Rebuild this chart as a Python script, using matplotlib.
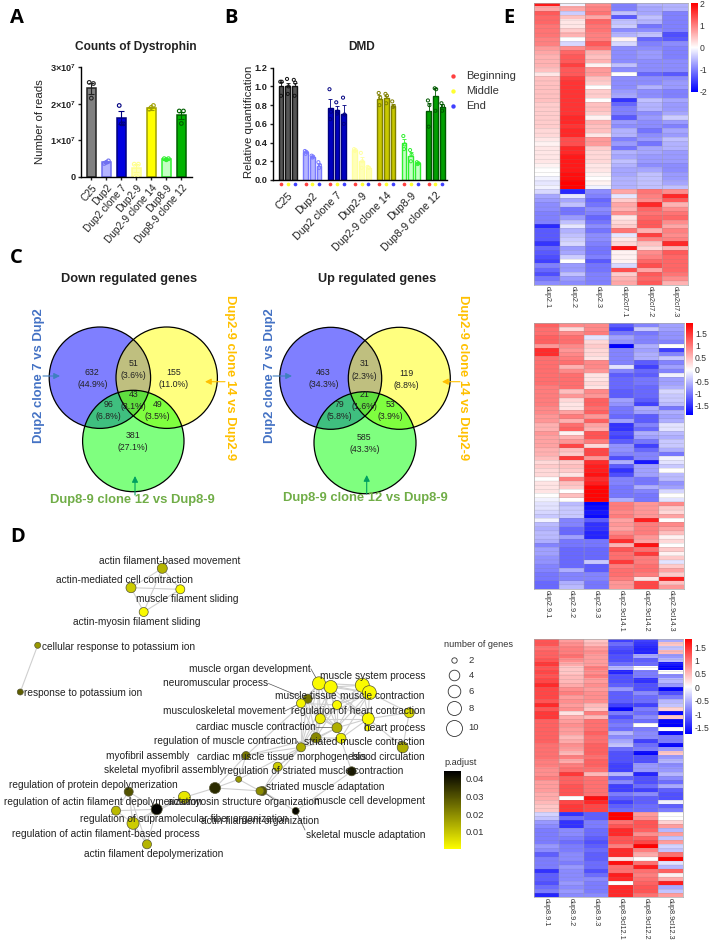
import matplotlib
matplotlib.use("Agg")
import matplotlib.pyplot as plt
import numpy as np
from matplotlib.colors import LinearSegmentedColormap
from matplotlib.patches import Circle

plt.rcParams["font.family"] = ["Liberation Sans", "DejaVu Sans"]
plt.rcParams["mathtext.default"] = "regular"

W, H = 711, 944

# Panel A
groups = ["C25", "Dup2", "Dup2 clone 7", "Dup2-9", "Dup2-9 clone 14", "Dup8-9", "Dup8-9 clone 12"]
reads_mean = [2.42e7, 0.40e7, 1.62e7, 0.25e7, 1.88e7, 0.48e7, 1.68e7]
reads_err = [0.15e7, 0.03e7, 0.17e7, 0.10e7, 0.04e7, 0.02e7, 0.10e7]
reads_points = [
    [2.58e7, 2.55e7, 2.15e7],
    [0.37e7, 0.44e7, 0.40e7],
    [1.95e7, 1.45e7, 1.45e7],
    [0.35e7, 0.35e7, 0.03e7],
    [1.85e7, 1.95e7, 1.90e7],
    [0.50e7, 0.50e7, 0.47e7],
    [1.80e7, 1.80e7, 1.46e7],
]
fill_a = ["#808080", "#b4b4ff", "#0000e0", "#ffffb8", "#ffff00", "#c4ffc4", "#00b400"]
edge_a = ["#222222", "#7070f0", "#000080", "#ffff90", "#a0a000", "#30f030", "#006000"]

# Panel B
quant_mean = [
    [1.00, 1.00, 1.00],
    [0.30, 0.25, 0.15],
    [0.77, 0.75, 0.71],
    [0.32, 0.20, 0.13],
    [0.87, 0.88, 0.79],
    [0.40, 0.26, 0.18],
    [0.74, 0.90, 0.78],
]
quant_err = [
    [0.05, 0.04, 0.04],
    [0.01, 0.01, 0.02],
    [0.10, 0.04, 0.09],
    [0.00, 0.05, 0.00],
    [0.04, 0.02, 0.02],
    [0.04, 0.04, 0.01],
    [0.08, 0.08, 0.03],
]
quant_points = [
    [[1.05, 1.05, 0.90], [1.08, 1.00, 0.92], [1.07, 1.04, 0.90]],
    [[0.31, 0.30, 0.28], [0.26, 0.25, 0.24], [0.19, 0.16, 0.13]],
    [[0.97, 0.73, 0.65], [0.83, 0.73, 0.71], [0.88, 0.70, 0.60]],
    [[0.33, 0.32, 0.31], [0.29, 0.20, 0.13], [0.14, 0.13, 0.13]],
    [[0.93, 0.88, 0.80], [0.92, 0.90, 0.82], [0.84, 0.79, 0.78]],
    [[0.47, 0.38, 0.33], [0.32, 0.27, 0.20], [0.19, 0.18, 0.17]],
    [[0.85, 0.80, 0.57], [0.98, 0.97, 0.74], [0.82, 0.79, 0.74]],
]
fill_b = ["#555555", "#b4b4ff", "#0000c0", "#ffffb8", "#c8c800", "#c4ffc4", "#00a000"]
edge_b = ["#111111", "#7878ff", "#000080", "#ffffa0", "#808000", "#30f030", "#005800"]
region_names = ["Beginning", "Middle", "End"]
region_colors = ["#ff4040", "#ffff30", "#4040ff"]

# Panel C
down_counts = ["632\n(44.9%)", "155\n(11.0%)", "381\n(27.1%)", "51\n(3.6%)", "96\n(6.8%)", "49\n(3.5%)", "43\n(3.1%)"]
up_counts = ["463\n(34.3%)", "119\n(8.8%)", "585\n(43.3%)", "31\n(2.3%)", "79\n(5.8%)", "53\n(3.9%)", "21\n(1.6%)"]

# Panel D
node_x = [162.3, 131, 180.3, 143.7, 37.7, 20.3, 128.7, 116, 156.7, 184.3, 133, 147, 215, 238.7, 246,
          319, 330.7, 362.3, 369.3, 307.7, 301, 337, 320.3, 368.3, 409.3, 337, 316, 341, 301, 402.7,
          367.7, 277.7, 351.7, 262.3, 295.7, 260]
node_y = [568.3, 587.7, 589.3, 612, 645.3, 692, 791.7, 810.7, 809.3, 797.3, 823.3, 844.3, 788, 779.3, 755.5,
          683.3, 687, 685.3, 692.7, 698.7, 703.3, 705, 718.7, 718.7, 712.7, 727.7, 737.7, 738.3, 747.3, 747.3,
          728, 766.7, 771.3, 791, 811, 791]
node_r = [5, 5, 4.5, 4.5, 3, 3, 4.5, 4.5, 5.5, 6, 6, 4.5, 5.5, 3, 4, 6.5, 6.5, 7, 7, 4.5, 4.5, 4.5, 5, 6, 5,
          5, 5, 5, 4.5, 5.5, 3, 4.5, 4.5, 4.5, 3.5, 4]
node_p = [0.013, 0.009, 0.001, 0.001, 0.018, 0.028, 0.03, 0.012, 0.044, 0.004, 0.009, 0.013, 0.037, 0.018, 0.024,
          0.001, 0.001, 0.001, 0.001, 0.024, 0.002, 0.001, 0.003, 0.001, 0.006,
          0.014, 0.021, 0.003, 0.014, 0.014, 0.001, 0.009, 0.04, 0.03, 0.043, 0.02]
edges = [(0, 1), (0, 2), (0, 3), (1, 2), (1, 3), (2, 3), (4, 5),
         (6, 7), (6, 8), (6, 10), (6, 11), (7, 8), (7, 10), (8, 9), (8, 10), (8, 11), (10, 11), (9, 10), (9, 12),
         (12, 13), (12, 14), (12, 33), (13, 14), (13, 35), (14, 28), (14, 19), (14, 26), (31, 28), (31, 33), (33, 34),
         (15, 16), (15, 17), (15, 18), (15, 19), (15, 20), (15, 21), (15, 22), (16, 17), (16, 18), (16, 21), (16, 22),
         (17, 18), (17, 21), (18, 21), (18, 23), (18, 24), (19, 20), (19, 22), (19, 26), (20, 21), (20, 22), (20, 25),
         (20, 28), (21, 22), (21, 23), (22, 25), (22, 26), (22, 23), (23, 24), (23, 25), (23, 30), (24, 29), (25, 26),
         (25, 27), (25, 28), (26, 27), (26, 28), (27, 28), (28, 31), (25, 32), (32, 34), (28, 33), (23, 29), (13, 28),
         (15, 23), (16, 23), (17, 23), (15, 25), (16, 25), (17, 25), (18, 25), (19, 25), (19, 28), (20, 26), (16, 26),
         (15, 28), (16, 28), (21, 25), (21, 26), (18, 27), (23, 27), (22, 28), (17, 22), (18, 22), (15, 26)]
net_labels = [
    ("actin filament-based movement", 169.3, 561, "center"),
    ("actin-mediated cell contraction", 124, 580, "center"),
    ("muscle filament sliding", 187, 599.5, "center"),
    ("actin-myosin filament sliding", 136.7, 622, "center"),
    ("cellular response to potassium ion", 42, 646.5, "left"),
    ("response to potassium ion", 24, 693, "left"),
    ("muscle organ development", 311, 669, "right"),
    ("neuromuscular process", 268.5, 683.5, "right"),
    ("muscle system process", 425, 676, "right"),
    ("muscle tissue", 275, 696, "left"),
    ("muscle contraction", 425, 696, "right"),
    ("musculoskeletal movement", 285, 711, "right"),
    ("regulation of heart contraction", 425, 711, "right"),
    ("cardiac muscle contraction", 316, 727, "right"),
    ("heart process", 425, 728, "right"),
    ("regulation of muscle contraction", 297, 741, "right"),
    ("striated muscle contraction", 425, 742, "right"),
    ("myofibril assembly", 106, 756, "left"),
    ("cardiac muscle tissue morphogenesis", 197, 757, "left"),
    ("blood circulation", 425, 757, "right"),
    ("skeletal myofibril assembly", 104.5, 770, "left"),
    ("regulation of striated muscle contraction", 403, 771.5, "right"),
    ("regulation of protein depolymerization", 9, 785, "left"),
    ("striated muscle adaptation", 385, 786.5, "right"),
    ("regulation of actin filament depolymerization", 4, 802, "left"),
    ("actomyosin structure organization", 320, 802, "right"),
    ("muscle cell development", 425, 801, "right"),
    ("regulation of supramolecular fiber organization", 80, 818.5, "left"),
    ("actin filament organization", 319.5, 821, "right"),
    ("regulation of actin filament-based process", 12.5, 834, "left"),
    ("skeletal muscle adaptation", 425, 835, "right"),
    ("actin filament depolymerization", 84.5, 854, "left"),
]
legend_genes = [2, 4, 6, 8, 10]
padjust_ticks = [0.01, 0.02, 0.03, 0.04]

# Panel E
heat1_labels = ["dup2.1", "dup2.2", "dup2.3", "dup2cl7.1", "dup2cl7.2", "dup2cl7.3"]
heat1 = [
    [1.8, -0.1, 0.9, -1.0, -0.6, -0.6], [0.7, 0.7, 1.0, -1.0, -0.7, -0.6], [1.3, -0.4, 1.1, -0.5, -0.7, -1.0],
    [1.2, 0.5, 0.7, -1.3, -0.5, -1.0], [1.2, 0.2, 1.2, -0.5, -0.6, -1.0], [1.1, 0.2, 1.1, -0.4, -1.1, -1.0],
    [1.1, 0.4, 1.1, -0.9, -0.9, -1.0], [1.1, 0.6, 1.0, -0.6, -0.5, -1.4], [1.0, 0.0, 1.0, 0.1, -1.2, -1.3],
    [1.0, -0.3, 1.3, -0.3, -1.0, -0.9], [0.8, 0.9, 1.1, -0.9, -0.9, -1.0], [0.7, 1.2, 0.6, -0.9, -0.8, -1.0],
    [0.6, 1.3, 0.5, -0.9, -0.8, -1.0], [0.6, 1.3, 0.6, -0.9, -0.9, -0.9], [0.6, 1.5, 0.1, -0.5, -0.9, -0.9],
    [0.5, 1.3, 0.8, -0.9, -0.9, -0.9], [0.2, 1.3, 0.8, 0.0, -1.2, -1.3], [0.5, 1.5, 0.5, -0.9, -0.9, -0.9],
    [0.5, 1.6, 0.4, -0.9, -0.9, -0.8], [0.5, 1.6, 0.0, -0.9, -0.6, -0.8], [0.5, 1.6, 0.4, -0.8, -0.9, -1.0],
    [0.5, 1.6, 0.4, -0.7, -0.9, -1.0], [0.5, 1.6, 0.0, -1.6, -0.5, -0.7], [0.4, 1.6, 0.5, -1.2, -0.6, -0.8],
    [0.4, 1.6, 0.5, -1.0, -0.6, -0.8], [0.4, 1.6, 0.4, -1.0, -0.9, -0.7], [0.4, 1.7, 0.1, -1.3, -0.8, -0.4],
    [0.4, 1.7, 0.6, -0.8, -0.9, -0.8], [0.4, 1.6, 0.5, -0.9, -0.9, -1.0], [0.3, 1.7, 0.5, -0.6, -1.1, -0.7],
    [0.3, 1.7, 0.2, -0.6, -0.9, -0.8], [0.2, 1.4, 0.8, -1.0, -0.8, -0.5], [0.1, 1.4, 0.8, -0.8, -1.1, -0.6],
    [0.2, 1.7, 0.4, -1.1, -0.7, -0.6], [0.2, 1.7, 0.3, -0.6, -0.7, -0.8], [0.2, 1.8, 0.3, -0.7, -0.8, -0.8],
    [0.2, 1.8, 0.3, -0.5, -0.8, -0.8], [0.1, 1.8, 0.2, -0.6, -0.9, -0.9], [0.0, 1.8, 0.2, -0.7, -0.7, -0.9],
    [0.0, 1.9, 0.1, -0.7, -0.5, -0.8], [-0.1, 1.9, 0.0, -0.6, -0.5, -0.8], [-0.2, 2.0, 0.1, -0.6, -0.5, -0.7],
    [-0.1, 2.0, -0.1, -0.6, -0.5, -0.5], [-0.3, -1.7, -0.9, 0.7, 1.1, 0.9], [-0.7, -0.2, -1.0, -0.2, 1.0, 1.7],
    [-0.8, -0.7, -1.2, 0.4, 0.9, 1.3], [-0.9, -0.5, -1.1, 0.7, 1.7, 0.6], [-0.9, -1.1, -0.9, 0.6, 1.2, 0.9],
    [-1.0, -1.1, -1.0, 0.9, 1.1, 1.1], [-1.0, -0.8, -1.2, 0.2, 1.2, 1.2], [-1.0, -0.5, -1.1, 0.3, 1.3, 0.9],
    [-1.7, -0.2, -0.9, 0.4, 1.3, 0.7], [-1.3, -0.6, -1.1, 1.1, 0.6, 1.0], [-1.3, -0.5, -0.9, -0.2, 1.5, 0.9],
    [-1.3, -0.4, -0.9, 0.2, 1.0, 1.0], [-1.6, -0.3, -1.0, 0.3, 0.5, 1.7], [-1.2, -0.8, -1.1, 1.9, 0.3, 0.6],
    [-1.3, -0.7, -1.1, 0.1, 0.9, 1.3], [-1.4, -0.4, -1.0, 0.1, 1.0, 1.2], [-1.5, 0.0, -1.3, 0.1, 1.2, 1.2],
    [-1.0, -0.8, -1.1, -0.3, 1.4, 1.2], [-1.2, -0.8, -1.1, 1.4, 0.7, 1.2], [-1.4, -0.5, -1.0, 0.4, 1.3, 1.1],
    [-1.1, -0.8, -1.0, 0.6, 1.2, 0.9], [-0.9, -0.9, -1.0, 0.7, 1.3, 0.6],
]
heat2_labels = ["dup2.9.1", "dup2.9.2", "dup2.9.3", "dup2.9cl14.1", "dup2.9cl14.2", "dup2.9cl14.3"]
heat2 = [
    [1.2, 0.9, 0.9, -1.2, -0.9, -0.7], [1.1, 0.3, 0.9, -1.4, -0.4, -0.7], [1.1, 0.9, 1.0, -1.0, -1.0, -0.8],
    [1.2, 1.1, -0.2, -0.7, -0.9, -0.8], [1.2, 1.1, 0.3, -0.8, -0.9, -0.9], [0.8, 0.9, 0.4, -1.9, -0.6, 0.0],
    [1.6, 0.8, 0.3, -0.9, -0.7, -1.4], [1.6, 0.9, 0.3, -0.9, -0.6, -0.9], [1.1, 1.0, 0.2, -0.9, -0.6, -0.4],
    [1.1, 1.1, 0.9, -0.9, -1.2, -0.9], [1.1, 0.6, 0.9, -0.2, -1.4, -0.7], [1.1, 0.9, 0.8, -0.9, -1.1, -0.9],
    [1.1, 1.1, 0.2, -1.2, -1.2, -0.1], [1.1, 1.1, 0.2, -1.1, -1.0, -0.7], [1.1, 1.1, 0.3, -1.1, -1.0, -0.7],
    [1.0, 1.1, 0.2, -1.1, -1.1, -0.6], [1.0, 0.5, 0.9, -1.2, -1.1, -0.3], [1.0, 0.8, 0.8, -1.2, -1.1, -0.4],
    [1.0, 0.3, 1.2, -0.7, -1.2, -0.4], [1.0, 0.2, 1.2, -0.8, -1.4, -0.5], [0.9, 0.2, 1.1, -1.0, -0.6, -1.0],
    [0.9, 0.7, 1.2, -1.0, -0.7, -0.6], [0.8, 1.0, 0.8, -1.1, -1.2, -0.7], [0.8, 0.6, 1.2, -0.7, -1.2, -0.6],
    [0.6, 1.1, 0.7, -1.5, -0.9, -0.2], [0.6, 1.2, 0.6, -1.5, -1.1, -0.2], [0.8, 0.1, 1.3, -1.3, -0.6, -0.5],
    [0.7, 0.6, 1.3, -1.4, -0.7, -0.6], [0.7, 0.8, 1.0, -1.2, -1.0, -0.4], [0.7, 1.4, 0.3, -0.8, -1.4, -0.4],
    [0.6, 0.5, 1.4, -0.8, -1.1, -0.6], [0.6, 0.4, 1.4, -0.9, -0.9, -1.0], [0.5, 1.5, 0.8, -1.3, -0.9, -0.1],
    [0.3, 0.4, 1.6, -0.6, -1.7, -0.2], [0.4, 0.5, 1.7, -1.2, -0.7, -0.4], [0.3, 0.4, 1.7, -1.5, -0.7, 0.0],
    [0.3, 0.2, 1.8, -1.3, -0.7, -0.5], [0.0, 1.0, 1.6, -0.9, -1.0, -0.5], [0.2, 0.5, 1.7, -0.9, -1.0, -0.8],
    [0.2, 0.4, 1.9, -1.0, -0.6, -0.7], [0.2, 0.0, 1.9, -1.0, -0.9, -0.3], [0.0, 0.5, 1.9, -1.0, -1.0, 0.0],
    [-0.1, 0.0, 1.9, -0.6, -1.0, -0.2], [-0.2, -0.5, -1.9, 1.0, 0.8, 0.9], [-0.2, -0.4, -1.8, 1.0, 0.8, 0.4],
    [-0.3, -0.4, -1.7, 0.9, 0.8, 0.3], [-0.4, -0.4, -1.8, 1.0, 0.8, 0.7], [-0.1, -0.9, -1.2, 0.7, 1.7, 0.0],
    [-0.5, -0.9, -1.5, 0.8, 1.0, 0.9], [-0.6, -1.1, -1.5, 0.7, 1.0, 0.7], [-0.5, -1.1, -1.6, 0.9, 1.0, 0.5],
    [-0.5, -0.7, -1.6, 1.1, 0.8, 0.1], [-0.6, -1.0, -1.0, 1.6, 0.7, 0.3], [-0.9, -1.0, -1.0, 0.6, 1.8, 0.0],
    [-0.7, -1.1, -1.1, 1.3, 1.1, 0.4], [-0.7, -1.1, -1.1, 1.1, 1.5, 0.1], [-0.8, -1.1, -1.1, 1.1, 1.0, 0.4],
    [-0.8, -1.1, -0.4, 1.5, 1.0, -0.2], [-0.9, -1.1, -1.2, 1.0, 1.1, 0.4], [-0.9, -0.6, -1.2, 1.1, 1.1, 0.7],
    [-1.0, -0.9, -0.9, 1.1, 1.0, 0.4], [-1.0, -0.9, -0.9, 1.0, 0.2, 1.7], [-1.1, -0.6, -1.0, 0.8, 1.4, 0.5],
    [-1.1, -0.5, -1.0, 0.8, 1.4, 0.8],
]
heat3_labels = ["dup8.9.1", "dup8.9.2", "dup8.9.3", "dup8.9cl12.1", "dup8.9cl12.2", "dup8.9cl12.3"]
heat3 = [
    [1.2, 0.7, 0.4, -1.3, -1.3, -0.6], [1.2, 0.8, 0.5, -1.0, -1.4, 0.4], [1.0, 0.9, 0.7, -1.2, -1.5, -0.4],
    [1.1, 0.9, 0.8, -1.3, -1.5, 0.5], [1.1, 1.0, 0.7, -1.2, -0.6, -0.7], [1.2, 0.8, 0.7, -1.2, -1.1, -0.5],
    [1.4, 0.6, 0.7, -1.0, -1.0, -1.6], [1.2, 0.4, 0.9, -0.5, 0.0, -1.8], [1.3, 0.4, 0.8, -1.5, -0.9, 0.0],
    [1.2, 0.5, 0.9, -1.2, -0.9, -0.8], [1.3, 0.5, 0.7, -1.2, -1.4, -0.5], [1.5, 0.6, 0.8, -1.1, -1.2, -0.7],
    [1.3, 0.8, 0.7, -0.7, -1.2, -1.7], [1.3, 0.9, 0.8, -1.1, -0.8, -1.2], [1.3, 0.7, 0.8, -1.1, -1.0, -0.9],
    [1.2, 0.8, 0.8, -1.1, -1.0, -0.5], [1.5, 0.7, 0.5, -1.3, -1.3, -0.4], [1.2, 0.8, 0.4, -1.7, -0.9, 0.3],
    [1.4, 0.2, 0.9, -0.9, -1.0, -1.7], [1.4, 0.6, 0.5, -1.2, -0.8, 0.4], [1.1, 0.7, 1.0, -1.0, -1.0, -1.7],
    [1.1, 0.8, 1.0, -0.9, 0.0, -1.8], [1.1, 0.7, 1.0, -1.0, -0.9, 0.0], [1.1, 0.7, 1.1, -0.5, -0.8, -1.7],
    [1.1, 0.5, 1.0, -0.8, -0.8, -0.9], [1.1, 0.6, 1.0, -0.6, -1.3, -0.9], [1.0, 0.8, 1.1, -0.4, -1.0, -1.7],
    [1.0, 0.7, 1.1, -1.0, -0.9, -0.7], [1.0, 0.5, 1.1, -1.2, -1.7, 0.4], [1.0, 0.9, 1.0, -1.2, -1.2, -0.7],
    [0.9, 0.6, 1.1, -1.2, -1.2, -0.5], [0.9, 0.9, 1.1, -1.3, -0.7, -0.8], [0.8, 1.0, 1.0, -1.3, -0.7, -0.7],
    [0.8, 1.4, 0.5, -0.5, -1.5, -0.5], [0.9, 1.1, 1.0, -1.1, -1.2, -0.8], [0.7, 1.1, 1.0, -0.8, -1.2, -1.0],
    [0.7, 1.2, 1.0, -1.3, -1.0, -0.6], [0.7, 1.2, 1.0, -1.3, -1.3, -1.1], [0.6, 1.2, 1.0, -0.9, -0.8, -1.2],
    [0.6, 0.0, 1.7, -1.1, -1.1, -1.2], [0.5, 1.3, 1.5, -1.3, -1.1, -0.1], [0.4, 1.4, 1.3, -1.1, -1.0, -1.1],
    [0.4, 1.4, 1.3, -1.0, -1.0, -0.9], [-0.3, -1.4, -1.1, 1.8, 0.7, 0.0], [-0.4, -1.0, -1.1, 1.8, 0.8, 0.0],
    [-0.7, -1.4, -0.9, 1.0, 1.2, 0.3], [-0.8, -1.4, -0.9, 1.2, 1.2, 0.7], [-0.9, -0.8, -1.0, 1.5, 1.1, -0.5],
    [-0.9, -0.8, -1.0, 1.5, 0.8, 0.7], [-0.9, -0.9, -1.1, 1.2, 1.1, -0.4], [-0.9, -1.0, -1.2, 1.2, 1.3, 0.7],
    [-0.7, -0.9, -1.1, 0.9, 1.8, -0.3], [-0.8, -0.9, -1.0, 1.5, 0.9, -0.4], [-1.1, -0.8, -1.1, 1.5, 0.6, 1.0],
    [-0.9, -0.8, -1.1, 0.2, 0.0, 1.8], [-0.9, -0.9, -1.0, 1.7, 1.0, -0.2], [-0.9, -0.7, -1.0, 1.0, 1.6, -0.5],
    [-1.4, -0.8, -1.2, 1.0, 1.0, 1.1], [-1.1, -0.8, -1.0, 1.6, 0.9, 0.1], [-1.1, -0.8, -0.8, 1.5, 1.0, 0.6],
    [-1.2, -0.7, -0.9, 0.0, 1.1, 1.6], [-1.0, -0.8, -0.9, 1.5, 1.2, -0.6], [-0.9, -0.7, -0.9, 1.5, 1.2, -0.4],
    [-1.5, -0.8, -0.8, 1.5, 1.0, 0.7],
]


def ax_px(x0, y0, x1, y1):
    # axes placed by its pixel box, y measured from the top
    return fig.add_axes([x0 / W, 1 - y1 / H, (x1 - x0) / W, (y1 - y0) / H])


def prism(ax):
    ax.spines["top"].set_visible(False)
    ax.spines["right"].set_visible(False)
    ax.spines["left"].set_linewidth(1.0)
    ax.spines["bottom"].set_linewidth(1.0)
    ax.tick_params(width=1.0, length=2.5, pad=1.5, labelsize=7.2, color="#222222", labelcolor="#222222")
    ax.tick_params(axis="y", labelsize=6.6)
    ax.set_facecolor("none")
    for t in ax.get_yticklabels():
        t.set_fontweight("bold")


fig = plt.figure(figsize=(W / 100, H / 100), dpi=100)

# page layer in pixel coordinates for text, venns and the network
page = fig.add_axes([0, 0, 1, 1], zorder=5)
page.set_xlim(0, W)
page.set_ylim(H, 0)
page.axis("off")


def txt(x, y, s, **kw):
    kw.setdefault("ha", "center")
    kw.setdefault("va", "center")
    return page.text(x, y, s, **kw)


for letter, lx, ly in [("A", 17, 18), ("B", 230.5, 18), ("E", 509, 18), ("C", 16.5, 258), ("D", 17.5, 537)]:
    txt(lx, ly, letter, fontsize=14.5, fontweight="bold", family=["Open Sans", "DejaVu Sans"], color="black")

# A
ax = ax_px(81, 67, 192, 177)
pos = np.arange(len(groups))
ax.bar(pos, reads_mean, width=0.62, color=fill_a, edgecolor=edge_a, linewidth=1.1)
for i in pos:
    ax.errorbar(i, reads_mean[i], yerr=reads_err[i], color=edge_a[i], capsize=2.2, lw=0.8, capthick=0.8)
    ax.scatter([i - 0.14, i + 0.14, i][:3], reads_points[i], s=7, facecolor="none", edgecolor=edge_a[i], lw=0.8, zorder=4)
ax.set_xlim(-0.687, 6.71)
ax.set_ylim(0, 3e7)
ax.set_yticks([0, 1e7, 2e7, 3e7])
ax.set_yticklabels(["0", "1×10$^{7}$", "2×10$^{7}$", "3×10$^{7}$"])
ax.set_xticks(pos)
ax.set_xticklabels(groups, rotation=49, ha="right", rotation_mode="anchor")
prism(ax)
txt(136, 47, "Counts of Dystrophin", fontsize=8.6, fontweight="bold", color="#222222")
txt(40, 122, "Number of reads", rotation=90, fontsize=8.2, color="#222222")

# B
ax = ax_px(273, 67.7, 447, 180)
for i in pos:
    for j in range(3):
        x = i + (j - 1) * 0.275
        ax.bar(x, quant_mean[i][j], width=0.19, color=fill_b[i], edgecolor=edge_b[i], linewidth=1.0)
        ax.errorbar(x, quant_mean[i][j], yerr=[[0], [quant_err[i][j]]], color=edge_b[i], capsize=1.2, lw=0.6, capthick=0.6)
        ax.scatter([x - 0.03, x + 0.03, x], quant_points[i][j], s=5, facecolor="none", edgecolor=edge_b[i], lw=0.7, zorder=4)
        ax.scatter(x, -0.04, s=7, color=region_colors[j], clip_on=False, zorder=4, lw=0)
ax.set_xlim(-0.6, 6.47)
ax.set_ylim(0, 1.2)
ax.set_yticks(np.arange(0, 1.21, 0.2))
ax.set_yticklabels([f"{v:.1f}" for v in np.arange(0, 1.21, 0.2)])
ax.set_xticks(pos)
ax.set_xticklabels(groups, rotation=45, ha="right", rotation_mode="anchor")
prism(ax)
ax.tick_params(axis="x", length=0, pad=7.5, labelsize=7.7)
txt(362, 47, "DMD", fontsize=8.6, fontweight="bold", color="#222222")
txt(248.5, 122, "Relative quantification", rotation=90, fontsize=8.2, color="#222222")
for name, colour, ly in zip(region_names, region_colors, [76, 91, 106]):
    page.scatter(453, ly, s=10, color=colour, lw=0)
    txt(466.5, ly, name, ha="left", fontsize=8, color="#333333")


# C
def venn(cx, cy, dx, dy, r, counts, offs):
    for (ox, oy), colour in zip([(-dx, 0), (dx, 0), (0, dy)], ["#0000ff", "#ffff00", "#00ff00"]):
        page.add_patch(Circle((cx + ox, cy + oy), r, facecolor=colour, alpha=0.5, edgecolor="none"))
    for ox, oy in [(-dx, 0), (dx, 0), (0, dy)]:
        page.add_patch(Circle((cx + ox, cy + oy), r, facecolor="none", edgecolor="black", lw=0.9))
    for s, (ox, oy) in zip(counts, offs):
        txt(cx + ox, cy + oy, s, fontsize=6.3, color="#222222", linespacing=1.45)


down_offs = [(-41, 1), (40.4, 1), (-0.6, 63.6), (0, -8.4), (-25, 32.5), (24.4, 32.5), (0, 23)]
up_offs = [(-41.7, 0.4), (41, 1), (-0.7, 65), (-0.7, -8.3), (-26, 32.4), (25.3, 32.4), (-0.7, 22.4)]
venn(133.3, 377.7, 33.4, 63.3, 50.7, down_counts, down_offs)
venn(365, 378.3, 34.3, 64.4, 51, up_counts, up_offs)

txt(129, 279.3, "Down regulated genes", fontsize=9.2, fontweight="bold", color="#222222")
txt(376.7, 279.3, "Up regulated genes", fontsize=9.2, fontweight="bold", color="#222222")
for x1, x2, x3, y3 in [(39.3, 230, 132.7, 499.5), (270, 462.7, 365, 498.5)]:
    txt(x1, 375.8, "Dup2 clone 7 vs Dup2", rotation=90, fontsize=9.4, fontweight="bold", color="#4472c4")
    txt(x2, 377.5, "Dup2-9 clone 14 vs Dup2-9", rotation=270, fontsize=9.4, fontweight="bold", color="#ffc000")
    txt(x3, y3, "Dup8-9 clone 12 vs Dup8-9", fontsize=9.4, fontweight="bold", color="#70ad47")
for tail, head, colour in [
    ((43, 376), (60, 376), "#3f7fc0"), ((225, 381.7), (205, 381.7), "#ffc000"), ((135, 495), (135, 476), "#00a060"),
    ((273, 376), (292, 376), "#3f7fc0"), ((460, 381.7), (442, 381.7), "#ffc000"), ((366.7, 494), (366.7, 475), "#00a060"),
]:
    page.annotate("", xy=head, xytext=tail, arrowprops=dict(arrowstyle="-|>", color=colour, lw=0.8, mutation_scale=9, shrinkA=0, shrinkB=0))

# D
padj_cmap = LinearSegmentedColormap.from_list("padj", ["#ffff00", "#000000"])
for a, b in edges:
    page.plot([node_x[a], node_x[b]], [node_y[a], node_y[b]], color="#cfcfcf", lw=0.8, zorder=1)
page.scatter(node_x, node_y, s=[(2 * r * 0.72) ** 2 for r in node_r], c=node_p, cmap=padj_cmap, vmin=0, vmax=0.0445,
             edgecolor="#555533", linewidth=0.5, zorder=2)
for s, lx, ly, ha in net_labels:
    txt(lx, ly, s, ha=ha, fontsize=7.3, color="#222222", zorder=3)
for a, b in [((311, 669), (319, 683)), ((268.5, 683.5), (301, 697)), ((285, 711), (301, 703)), ((316, 727), (337, 727)),
             ((297, 741), (301, 747)), ((262, 791), (275, 800)), ((295.7, 811), (305, 830))]:
    page.plot([a[0], b[0]], [a[1], b[1]], color="#555555", lw=0.5, zorder=1)

txt(444, 644.3, "number of genes", ha="left", fontsize=6.6, color="#333333")
for g, ly, r in zip(legend_genes, [660.3, 675.3, 691.3, 708.3, 727.7], [2.7, 5.3, 6.3, 7, 8]):
    page.scatter(453.7, ly, s=(2 * r * 0.72) ** 2, facecolor="white", edgecolor="#333333", lw=0.6)
    txt(468.5, ly, str(g), ha="left", fontsize=6.8, color="#333333")
txt(444, 762.7, "p.adjust", ha="left", fontsize=6.6, color="#333333")
cax = ax_px(444, 770.7, 460, 848.7)
grad = np.linspace(0.0005, 0.0445, 100).reshape(-1, 1)
cax.imshow(grad, aspect="auto", origin="lower", cmap=padj_cmap, vmin=0, vmax=0.0445, extent=[0, 1, 0.0005, 0.0445])
cax.set_xticks([])
cax.yaxis.tick_right()
cax.set_yticks(padjust_ticks)
cax.set_yticklabels([f"{v:.2f}" for v in padjust_ticks], fontsize=6.8, color="#333333")
cax.tick_params(axis="y", length=0, pad=4)
for s in cax.spines.values():
    s.set_visible(False)

# E
heat_cmap = LinearSegmentedColormap.from_list("bwr2", ["#0000ff", "#ffffff", "#ff0000"])


def heatmap(data, labels, box, cbox, ticks, vmin, vmax, lab):
    arr = np.array(data)
    n = len(arr)
    hx = ax_px(*box)
    norm = matplotlib.colors.TwoSlopeNorm(vcenter=0, vmin=vmin, vmax=vmax)
    hx.imshow(arr, aspect="auto", cmap=heat_cmap, norm=norm, extent=[0, 6, n, 0], interpolation="nearest")
    # faint pheatmap cell borders, not snapped so they stay soft
    rows = hx.hlines(np.arange(1, n), 0, 6, color="#808080", lw=0.35, alpha=0.35)
    rows.set_snap(False)
    cols = hx.vlines(np.arange(1, 6), 0, n, color="#a0a0a0", lw=0.5, alpha=0.6)
    cols.set_snap(False)
    hx.set_xlim(0, 6)
    hx.set_ylim(n, 0)
    hx.set_yticks([])
    hx.set_xticks(np.arange(6) + 0.5)
    hx.set_xticklabels(labels, rotation=270, fontsize=5.2, color="#333333", va="top", ha="center")
    hx.tick_params(axis="x", length=0, pad=0.5)
    for s in hx.spines.values():
        s.set_color("#a8a8a8")
        s.set_linewidth(0.5)
    bar = ax_px(*cbox)
    g = np.linspace(vmin, vmax, 200).reshape(-1, 1)
    bar.imshow(g, aspect="auto", origin="lower", cmap=heat_cmap, norm=norm, extent=[0, 1, vmin, vmax])
    bar.set_xticks([])
    bar.yaxis.tick_right()
    bar.set_yticks(ticks)
    bar.set_yticklabels(lab, fontsize=6.2, color="#333333")
    bar.tick_params(axis="y", length=0, pad=1.5)
    for s in bar.spines.values():
        s.set_visible(False)


heatmap(heat1, heat1_labels, (534.3, 2.7, 688.3, 285.3), (691, 2.7, 697.3, 91.7), [-2, -1, 0, 1, 2], -2.02, 2.02,
        ["-2", "-1", "0", "1", "2"])
heatmap(heat2, heat2_labels, (534.3, 323.3, 683.7, 589), (686.3, 323.3, 693, 415), [-1.5, -1, -0.5, 0, 0.5, 1, 1.5],
        -1.875, 1.94, ["-1.5", "-1", "-0.5", "0", "0.5", "1", "1.5"])
heatmap(heat3, heat3_labels, (534.3, 639, 683, 897.3), (685.3, 639, 692.3, 734.3), [-1.5, -1, -0.5, 0, 0.5, 1, 1.5],
        -1.75, 1.8, ["-1.5", "-1", "-0.5", "0", "0.5", "1", "1.5"])

fig.savefig("out.png", dpi=100, facecolor="white")
